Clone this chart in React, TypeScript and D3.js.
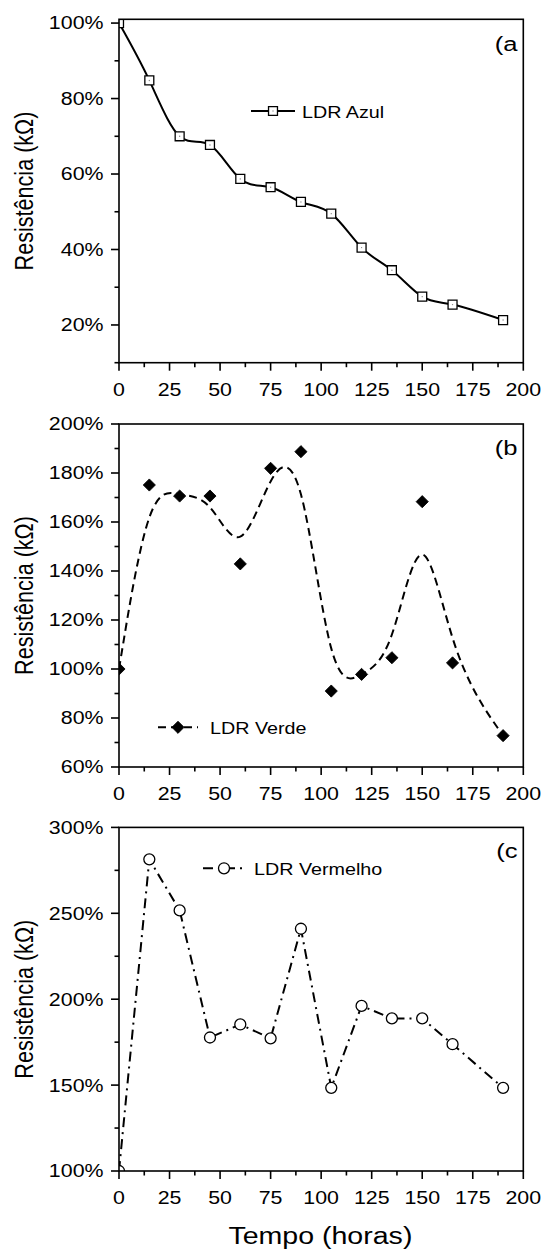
import React from 'react';
import * as d3 from 'd3';

// ---- data ----
const hours = [0, 15, 30, 45, 60, 75, 90, 105, 120, 135, 150, 165, 190];
const ldrAzul = [100, 84.8, 70.0, 67.7, 58.7, 56.5, 52.6, 49.5, 40.5, 34.5, 27.5, 25.4, 21.3];
const ldrVerde = [100, 175.1, 170.6, 170.6, 142.9, 181.9, 188.7, 91.0, 97.8, 104.6, 168.3, 102.5, 72.8];
const ldrVermelho = [100, 281.4, 251.7, 177.7, 185.3, 177.2, 241.0, 148.4, 196.1, 188.8, 188.8, 173.8, 148.4];

const xTicks = [0, 25, 50, 75, 100, 125, 150, 175, 200];
const xMinorTicks = [12.5, 37.5, 62.5, 87.5, 112.5, 137.5, 162.5, 187.5];
const yTicksA = [20, 40, 60, 80, 100];
const yMinorA = [10, 30, 50, 70, 90];
const yTicksB = [60, 80, 100, 120, 140, 160, 180, 200];
const yMinorB = [70, 90, 110, 130, 150, 170, 190];
const yTicksC = [100, 150, 200, 250, 300];
const yMinorC = [125, 175, 225, 275];
const legendNames = ['LDR Azul', 'LDR Verde', 'LDR Vermelho'];
const panelLabels = ['(a', '(b', '(c'];
const yTitle = 'Resistência (kΩ)';
const xTitle = 'Tempo (horas)';

const FONT = "'Liberation Sans', Arial, Helvetica, sans-serif";
const W = 545;
const H = 1253;
const XL = 119;
const XR = 523.3;

type PanelCfg = {
  top: number;
  bottom: number;
  domain: [number, number];
  ticks: number[];
  minor: number[];
  values: number[];
  curve: d3.CurveFactory;
  dash: string;
  marker: 'square' | 'diamond' | 'circle';
  legend: { x1: number; x2: number; y: number; tx: number; tb: number; name: string };
  label: string;
  labelY: number;
};

const panels: PanelCfg[] = [
  {
    top: 19.3, bottom: 362.7, domain: [10, 101], ticks: yTicksA, minor: yMinorA,
    values: ldrAzul, curve: d3.curveNatural, dash: '', marker: 'square',
    legend: { x1: 251, x2: 295, y: 111, tx: 302, tb: 118.3, name: legendNames[0] },
    label: panelLabels[0], labelY: 50.5,
  },
  {
    top: 424, bottom: 767, domain: [60, 200], ticks: yTicksB, minor: yMinorB,
    values: ldrVerde, curve: d3.curveBasis, dash: '8,5', marker: 'diamond',
    legend: { x1: 158, x2: 198, y: 727.3, tx: 210, tb: 734, name: legendNames[1] },
    label: panelLabels[1], labelY: 455,
  },
  {
    top: 827.4, bottom: 1171, domain: [100, 300], ticks: yTicksC, minor: yMinorC,
    values: ldrVermelho, curve: d3.curveLinear, dash: '10,5,2,5', marker: 'circle',
    legend: { x1: 203, x2: 245, y: 868.3, tx: 254, tb: 875, name: legendNames[2] },
    label: panelLabels[2], labelY: 857.5,
  },
];

const x = d3.scaleLinear().domain([0, 200]).range([XL, XR]);

function Marker({ kind, cx, cy }: { kind: string; cx: number; cy: number }) {
  if (kind === 'square') {
    const p = d3.symbol(d3.symbolSquare, 80)();
    return (
      <g transform={`translate(${cx},${cy})`}>
        <path d={p || ''} fill="#fff" stroke="#000" strokeWidth={1.3} />
        <circle r={0.7} fill="#888" />
      </g>
    );
  }
  if (kind === 'diamond') {
    const p = d3.symbol(d3.symbolSquare, 74)();
    return <path d={p || ''} transform={`translate(${cx},${cy}) rotate(45)`} fill="#000" stroke="#000" strokeWidth={0.8} />;
  }
  const p = d3.symbol(d3.symbolCircle, 95)();
  return <path d={p || ''} transform={`translate(${cx},${cy})`} fill="#fff" stroke="#000" strokeWidth={1.3} />;
}

function Panel({ cfg, idx }: { cfg: PanelCfg; idx: number }) {
  const y = d3.scaleLinear().domain(cfg.domain).range([cfg.bottom, cfg.top]);
  const pts: [number, number][] = hours.map((h, i) => [x(h), y(cfg.values[i])]);
  const line = d3.line().curve(cfg.curve)(pts) || '';
  const clipId = `clip${idx}`;
  const midY = (cfg.top + cfg.bottom) / 2;
  const lg = cfg.legend;
  return (
    <g>
      <defs>
        <clipPath id={clipId}>
          <rect x={XL} y={cfg.top} width={XR - XL} height={cfg.bottom - cfg.top} />
        </clipPath>
      </defs>
      <g clipPath={`url(#${clipId})`}>
        <path d={line} fill="none" stroke="#000" strokeWidth={2} strokeDasharray={cfg.dash || undefined} />
        {pts.map((p, i) => (
          <Marker key={i} kind={cfg.marker} cx={p[0]} cy={p[1]} />
        ))}
      </g>
      <rect x={XL} y={cfg.top} width={XR - XL} height={cfg.bottom - cfg.top} fill="none" stroke="#000" strokeWidth={1.6} />
      {cfg.ticks.map((t) => (
        <g key={`yt${t}`}>
          <line x1={XL - 8} x2={XL} y1={y(t)} y2={y(t)} stroke="#000" strokeWidth={1.6} />
          <text transform={`translate(${XL - 15.5},${y(t) + 6.4}) scale(1.2,1)`} textAnchor="end" fontFamily={FONT} fontSize={17.8} fill="#000">
            {`${t}%`}
          </text>
        </g>
      ))}
      {cfg.minor.map((t) => (
        <line key={`ym${t}`} x1={XL - 4.5} x2={XL} y1={y(t)} y2={y(t)} stroke="#000" strokeWidth={1.6} />
      ))}
      {xTicks.map((t) => (
        <g key={`xt${t}`}>
          <line x1={x(t)} x2={x(t)} y1={cfg.bottom} y2={cfg.bottom + 8} stroke="#000" strokeWidth={1.6} />
          <text transform={`translate(${x(t)},${cfg.bottom + 33}) scale(1.2,1)`} textAnchor="middle" fontFamily={FONT} fontSize={17.8} fill="#000">
            {t}
          </text>
        </g>
      ))}
      {xMinorTicks.map((t) => (
        <line key={`xm${t}`} x1={x(t)} x2={x(t)} y1={cfg.bottom} y2={cfg.bottom + 4.5} stroke="#000" strokeWidth={1.6} />
      ))}
      <text transform={`translate(${517.5},${cfg.labelY}) scale(1.22,1)`} textAnchor="end" fontFamily={FONT} fontSize={21} fill="#000">
        {cfg.label}
      </text>
      <line x1={lg.x1} x2={lg.x2} y1={lg.y} y2={lg.y} stroke="#000" strokeWidth={2} strokeDasharray={cfg.dash || undefined} />
      <Marker kind={cfg.marker} cx={(lg.x1 + lg.x2) / 2} cy={lg.y} />
      <text transform={`translate(${lg.tx},${lg.tb}) scale(1.14,1)`} fontFamily={FONT} fontSize={17.3} fill="#000">
        {lg.name}
      </text>
      <text transform={`translate(33.3,${midY}) rotate(-90) scale(1,1.18)`} textAnchor="middle" fontFamily={FONT} fontSize={21.6} fill="#000">
        {yTitle}
      </text>
    </g>
  );
}

export default function App() {
  return (
    <svg width={W} height={H} style={{ position: 'absolute', left: 0, top: 0, background: '#fff' }}>
      <rect x={0} y={0} width={W} height={H} fill="#fff" />
      {panels.map((p, i) => (
        <Panel key={i} cfg={p} idx={i} />
      ))}
      <text transform={`translate(320.4,1244) scale(1.18,1)`} textAnchor="middle" fontFamily={FONT} fontSize={24.2} fill="#000">
        {xTitle}
      </text>
    </svg>
  );
}
